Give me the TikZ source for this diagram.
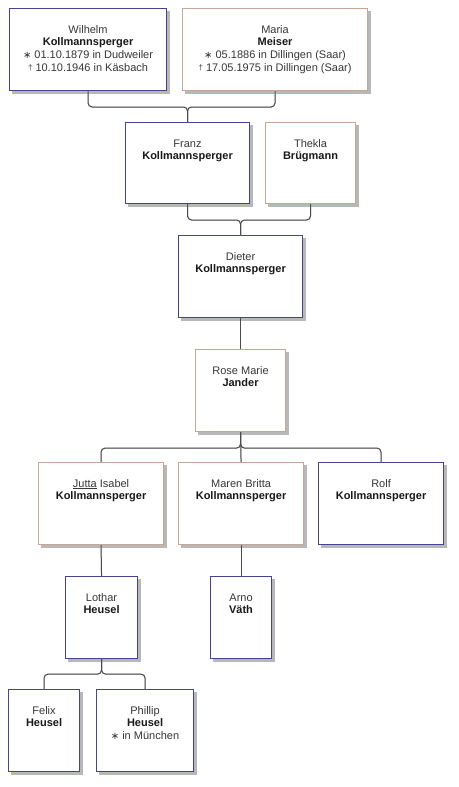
\documentclass[tikz,border=0pt]{standalone}
\usepackage{fontspec}
\setmainfont{Liberation Sans}
\newfontfamily\dejavu{DejaVu Sans}
\usetikzlibrary{calc,backgrounds}
\definecolor{maleblue}{RGB}{68,68,148}
\definecolor{femtan}{RGB}{198,166,148}
\definecolor{linegray}{RGB}{75,75,75}
\definecolor{txtgray}{RGB}{55,55,55}
\begin{document}
\begin{tikzpicture}[x=1pt,y=-1pt,
  pbox/.style={rectangle, fill=white, line width=1.1pt, anchor=north west, inner sep=0pt},
  male/.style={pbox, draw=maleblue},
  female/.style={pbox, draw=femtan},
  shadowbox/.style={fill=black!28},
  txt/.style={anchor=north, align=center, inner sep=0pt, text=txtgray,
    font=\fontsize{11}{12.8}\selectfont},
  conn/.style={draw=linegray, line width=1pt, rounded corners=4pt},
  connsh/.style={draw=black!20, line width=1pt, rounded corners=4pt, shift={(1.3,1.3)}}
]
\useasboundingbox (0,0) rectangle (458,787);
\newcommand\nm[1]{\textcolor{black!90}{\textbf{#1}}}
\newcommand\bornsym{{\dejavu\fontsize{10}{10}\selectfont ∗}\hspace{3pt}}
\newcommand\deadsym{\raisebox{1pt}{\fontsize{8}{8}\selectfont\textdagger}\hspace{3pt}}

% boxes
\node[male,   minimum width=157pt, minimum height=82pt] (wilhelm) at (9,8) {};
\node[female, minimum width=185pt, minimum height=82pt] (maria) at (182,8) {};
\node[male,   minimum width=124pt, minimum height=81pt] (franz) at (125,122) {};
\node[female, minimum width=90pt,  minimum height=81pt] (thekla) at (265,122) {};
\node[male,   minimum width=124pt, minimum height=82pt] (dieter) at (178,235) {};
\node[female, minimum width=90pt,  minimum height=82pt] (rose) at (195,349) {};
\node[female, minimum width=125pt, minimum height=82pt] (jutta) at (38,462) {};
\node[female, minimum width=125pt, minimum height=82pt] (maren) at (178,462) {};
\node[male,   minimum width=125pt, minimum height=82pt] (rolf) at (318,462) {};
\node[male,   minimum width=72pt,  minimum height=82pt] (lothar) at (65,576) {};
\node[male,   minimum width=61pt,  minimum height=82pt] (arno) at (210,576) {};
\node[male,   minimum width=71pt,  minimum height=82pt] (felix) at (8,689) {};
\node[male,   minimum width=97pt,  minimum height=82pt] (phillip) at (96,689) {};

% shadows and connector shadows (behind)
\begin{scope}[on background layer]
\fill[white] (0,0) rectangle (458,787);
\foreach \n in {wilhelm,maria,franz,thekla,dieter,rose,jutta,maren,rolf,lothar,arno,felix,phillip}
  \fill[shadowbox] ($(\n.north west)+(3,3)$) rectangle ($(\n.south east)+(3,3)$);
\end{scope}

% texts
\node[txt] (wilhelm-t) at ($(wilhelm.north)+(0,16)$) {\strut Wilhelm\\\nm{Kollmannsperger}\\\bornsym 01.10.1879 in Dudweiler\\\deadsym 10.10.1946 in Käsbach};
\node[txt] (maria-t) at ($(maria.north)+(0,16)$) {\strut Maria\\\nm{Meiser}\\\bornsym 05.1886 in Dillingen (Saar)\\\deadsym 17.05.1975 in Dillingen (Saar)};
\node[txt] (franz-t) at ($(franz.north)+(0,16)$) {\strut Franz\\\nm{Kollmannsperger}};
\node[txt] (thekla-t) at ($(thekla.north)+(0,16)$) {\strut Thekla\\\nm{Brügmann}};
\node[txt] (dieter-t) at ($(dieter.north)+(0,16)$) {\strut Dieter\\\nm{Kollmannsperger}};
\node[txt] (rose-t) at ($(rose.north)+(0,16)$) {\strut Rose Marie\\\nm{Jander}};
\node[txt] (jutta-t) at ($(jutta.north)+(0,16)$) {\strut\underline{Jutta} Isabel\\\nm{Kollmannsperger}};
\node[txt] (maren-t) at ($(maren.north)+(0,16)$) {\strut Maren Britta\\\nm{Kollmannsperger}};
\node[txt] (rolf-t) at ($(rolf.north)+(0,16)$) {\strut Rolf\\\nm{Kollmannsperger}};
\node[txt] (lothar-t) at ($(lothar.north)+(0,16)$) {\strut Lothar\\\nm{Heusel}};
\node[txt] (arno-t) at ($(arno.north)+(0,16)$) {\strut Arno\\\nm{Väth}};
\node[txt] (felix-t) at ($(felix.north)+(0,16)$) {\strut Felix\\\nm{Heusel}};
\node[txt] (phillip-t) at ($(phillip.north)+(0,16)$) {\strut Phillip\\\nm{Heusel}\\\bornsym in München};

% junction points
\coordinate (b1) at ($(franz.north)+(0,-15)$);
\coordinate (b2) at ($(dieter.north)+(0,-15)$);
\coordinate (b3) at ($(rose.south)+(0,16)$);
\coordinate (b4) at ($(lothar.south)+(0,15)$);

% connector shadows
\draw[connsh] (wilhelm.south) |- (b1) -- (franz.north);
\draw[connsh] (maria.south) |- (b1) -- (franz.north);
\draw[connsh] (franz.south) |- (b2) -- (dieter.north);
\draw[connsh] (thekla.south) |- (b2) -- (dieter.north);
\draw[connsh] (dieter.south) -- (rose.north);
\draw[connsh] (rose.south) -- (b3) -| (jutta.north);
\draw[connsh] (rose.south) -- (b3) -| (rolf.north);
\draw[connsh] (rose.south) -- (maren.north);
\draw[connsh] (jutta.south) -- (lothar.north);
\draw[connsh] (maren.south) -- (arno.north);
\draw[connsh] (lothar.south) -- (b4) -| (felix.north);
\draw[connsh] (lothar.south) -- (b4) -| (phillip.north);

% connectors
\draw[conn] (wilhelm.south) |- (b1) -- (franz.north);
\draw[conn] (maria.south) |- (b1) -- (franz.north);
\draw[conn] (franz.south) |- (b2) -- (dieter.north);
\draw[conn] (thekla.south) |- (b2) -- (dieter.north);
\draw[conn] (dieter.south) -- (rose.north);
\draw[conn] (rose.south) -- (b3) -| (jutta.north);
\draw[conn] (rose.south) -- (b3) -| (rolf.north);
\draw[conn] (rose.south) -- (maren.north);
\draw[conn] (jutta.south) -- (lothar.north);
\draw[conn] (maren.south) -- (arno.north);
\draw[conn] (lothar.south) -- (b4) -| (felix.north);
\draw[conn] (lothar.south) -- (b4) -| (phillip.north);
\end{tikzpicture}
\end{document}
